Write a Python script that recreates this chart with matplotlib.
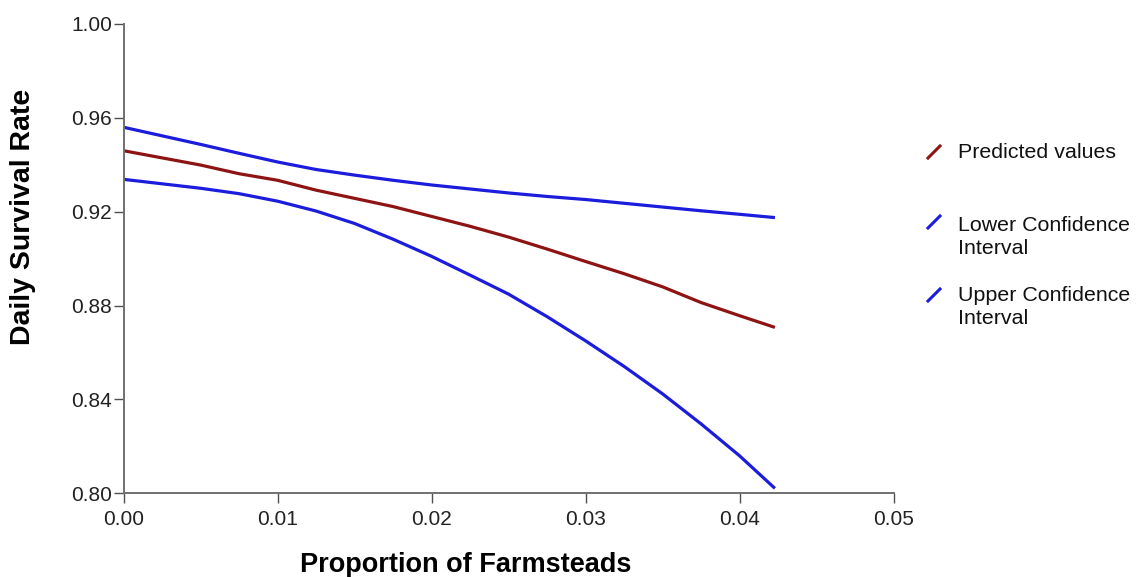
import matplotlib
matplotlib.use("Agg")
import matplotlib.pyplot as plt

plt.rcParams['font.family'] = ['Liberation Sans', 'DejaVu Sans']

# ---- data ----
proportion = [0.0, 0.005, 0.0075, 0.010, 0.0125, 0.015, 0.0175, 0.020, 0.0225,
              0.025, 0.0275, 0.030, 0.0325, 0.035, 0.0375, 0.040, 0.0423]
upper_ci   = [0.9560, 0.9487, 0.9449, 0.9412, 0.9380, 0.9356, 0.9334, 0.9314, 0.9297,
              0.9280, 0.9265, 0.9252, 0.9236, 0.9220, 0.9204, 0.9189, 0.9175]
predicted  = [0.9460, 0.9399, 0.9362, 0.9334, 0.9292, 0.9257, 0.9222, 0.9180, 0.9138,
              0.9092, 0.9041, 0.8988, 0.8936, 0.8880, 0.8813, 0.8757, 0.8707]
lower_ci   = [0.9338, 0.9300, 0.9277, 0.9245, 0.9203, 0.9150, 0.9083, 0.9010, 0.8930,
              0.8849, 0.8753, 0.8650, 0.8541, 0.8424, 0.8296, 0.8160, 0.8021]

x_ticks = [0.00, 0.01, 0.02, 0.03, 0.04, 0.05]
y_ticks = [0.80, 0.84, 0.88, 0.92, 0.96, 1.00]
legend_labels = ["Predicted values", "Lower Confidence\nInterval", "Upper Confidence\nInterval"]

red = '#8e1414'
blue = '#1c1cdc'
legend_colors = [red, blue, blue]

fig = plt.figure(figsize=(11.36, 5.77), dpi=100)
ax = fig.add_axes([123.5 / 1136, 1 - 493.3 / 577, 770 / 1136, 469.3 / 577])

ax.plot(proportion, upper_ci, color=blue, lw=2.3, solid_capstyle='butt')
ax.plot(proportion, predicted, color=red, lw=2.3, solid_capstyle='butt')
ax.plot(proportion, lower_ci, color=blue, lw=2.3, solid_capstyle='butt')

ax.set_xlim(0, 0.05)
ax.set_ylim(0.80, 1.00)
ax.set_xticks(x_ticks)
ax.set_xticklabels([f"{v:.2f}" for v in x_ticks])
ax.set_yticks(y_ticks)
ax.set_yticklabels([f"{v:.2f}" for v in y_ticks])

for s in ['top', 'right']:
    ax.spines[s].set_visible(False)
for s in ['left', 'bottom']:
    ax.spines[s].set_color('#707070')
    ax.spines[s].set_linewidth(1.4)

ax.tick_params(axis='both', direction='out', length=7.2, width=1.0, color='#505050',
               labelsize=15, labelcolor='#222222')
ax.tick_params(axis='x', pad=5)
ax.tick_params(axis='y', pad=1)

ax.set_xlabel("Proportion of Farmsteads", fontsize=19.5, fontweight='bold')
ax.xaxis.set_label_coords(0.445, -0.125)
ax.set_ylabel("Daily Survival Rate", fontsize=20.5, fontweight='bold')
ax.yaxis.set_label_coords(-0.113, 0.589)

# ---- legend (manual, figure coordinates) ----
W, H = 1136, 577
text_centers = [150, 223, 293]
mark_centers = [152, 222, 295]
for lab, col, ty, my in zip(legend_labels, legend_colors, text_centers, mark_centers):
    fig.add_artist(plt.Line2D([928 / W, 940 / W], [1 - (my + 6) / H, 1 - (my - 6) / H],
                              color=col, lw=2.2, transform=fig.transFigure))
    fig.text(958 / W, 1 - (ty - 6.6) / H, lab, fontsize=15.4, color='#111111',
             ha='left', va='top', linespacing=1.25)

fig.savefig("out.png", dpi=100, facecolor='white')
